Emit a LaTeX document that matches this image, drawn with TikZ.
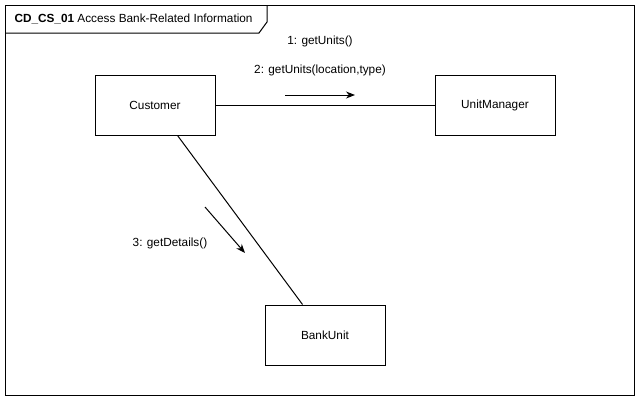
\documentclass[tikz,border=0pt]{standalone}
\usepackage{fontspec}
\setmainfont{Liberation Sans}
\usetikzlibrary{positioning,arrows.meta}

\begin{document}
\begin{tikzpicture}[%
    x=1pt, y=-1pt,
    >={Stealth[length=9pt,width=7pt]},
    line width=1pt,
    node distance=340pt,
    on grid,
    font=\fontsize{11.8}{14}\selectfont,
    object/.style={draw, minimum width=120pt, minimum height=60pt, inner sep=0pt},
    msg/.style={->, shorten >=0pt}
    ]

    \useasboundingbox (0,0) rectangle (641,402);

    % frame and title tab
    \draw (5,5) rectangle (634,395);
    \draw (5,33) -- (259,33) -- (267,22) -- (267,5);
    \node[anchor=west, inner sep=0pt] (title) at (14,19) {\textbf{CD\_CS\_01} Access Bank-Related Information};

    \node[object] (cust) at (155,105) {Customer};
    \node[object] (unit) [right=of cust] {UnitManager};
    \node[object] (bank) [below right=230pt and 170pt of cust] {BankUnit};

    \draw (cust) -- (unit);
    \draw (cust) -- (bank);

    % messages
    \coordinate (m1s) at (285,95);
    \coordinate (m1e) at (355,95);
    \coordinate (m3s) at (205,207);
    \coordinate (m3e) at (245,253);
    \draw[msg] (m1s) -- (m1e);
    \draw[msg] (m3s) -- (m3e);

    \node (l1) at (320,41) {1: getUnits()};
    \node (l2) at (320,70) {2: getUnits(location,type)};
    \node (l3) at (170,243) {3: getDetails()};

\end{tikzpicture}
\end{document}
